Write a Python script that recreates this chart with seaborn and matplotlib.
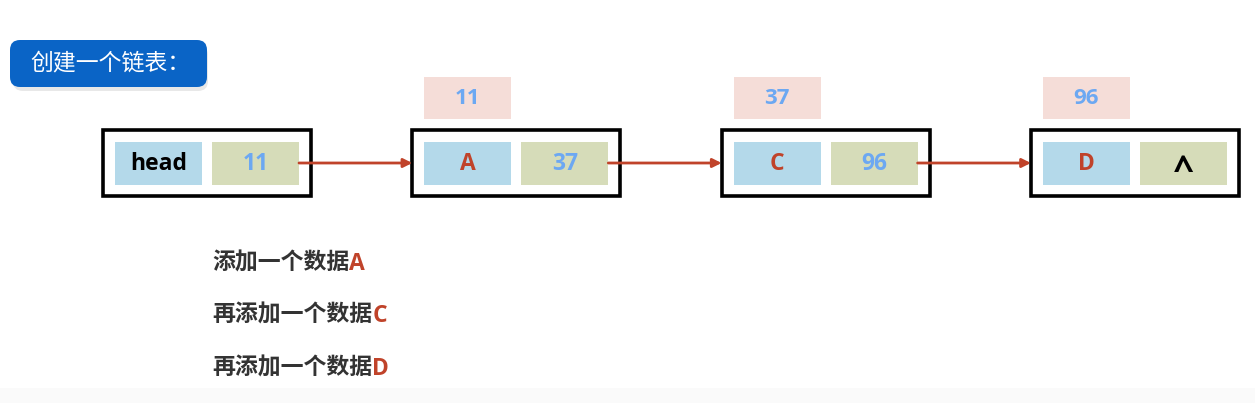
import matplotlib
matplotlib.use('Agg')
import matplotlib.pyplot as plt
import seaborn as sns
from matplotlib.patches import Rectangle, FancyBboxPatch

sns.set_theme(style="white")
plt.rcParams['font.family'] = ['Noto Sans CJK SC', 'DejaVu Sans']

# data of the linked list
title = "创建一个链表："
node_data = ["head", "A", "C", "D"]
node_next = ["11", "37", "96", "^"]
node_addr = [None, "11", "37", "96"]
step_text = ["添加一个数据", "再添加一个数据", "再添加一个数据"]
step_item = ["A", "C", "D"]

# colours
BLUE_BOX = "#0a64c6"
CELL_DATA = "#b4d9ea"
CELL_NEXT = "#d6dcb9"
ADDR_BG = "#f5ddd8"
NUM_COL = "#6ca8f2"
RED = "#c0432a"
DARK = "#333333"
LATIN = ['Open Sans', 'DejaVu Sans']

W, H = 1255, 403
fig = plt.figure(figsize=(W / 100, H / 100), dpi=100)
ax = fig.add_axes([0, 0, 1, 1])
ax.set_xlim(0, W)
ax.set_ylim(H, 0)
ax.axis('off')
fig.patch.set_facecolor('white')

# faint band at the bottom
ax.add_patch(Rectangle((0, 388), W, 15, facecolor="#fafafa", edgecolor='none'))

# title button with shadow
ax.add_patch(FancyBboxPatch((13, 45), 195, 46, boxstyle="round,pad=0,rounding_size=10",
                            facecolor="#d9d9d9", edgecolor='none', alpha=0.6))
ax.add_patch(FancyBboxPatch((10, 40), 197, 47, boxstyle="round,pad=0,rounding_size=10",
                            facecolor=BLUE_BOX, edgecolor='none'))
ax.text(30, 63, title, color='white', fontsize=16.5, va='center', ha='left')

# node layout
x0, step = 103, 309.3
box_w, box_h, box_y = 208, 66, 130
cell_w, cell_h, pad = 87, 43, 12

for i, (d, nx, ad) in enumerate(zip(node_data, node_next, node_addr)):
    bx = x0 + i * step
    ax.add_patch(Rectangle((bx, box_y), box_w, box_h, facecolor='white',
                           edgecolor='black', lw=2.6))
    lx = bx + pad
    rx = lx + cell_w + 10
    cy = box_y + pad
    ax.add_patch(Rectangle((lx, cy), cell_w, cell_h, facecolor=CELL_DATA, edgecolor='none'))
    ax.add_patch(Rectangle((rx, cy), cell_w, cell_h, facecolor=CELL_NEXT, edgecolor='none'))
    dcol = 'black' if d == "head" else RED
    ax.text(lx + cell_w / 2, cy + cell_h / 2 + 1, d, color=dcol, fontsize=16.5,
            fontweight='bold', ha='center', va='center', family=LATIN)
    if nx == "^":
        ax.text(rx + cell_w / 2, cy + cell_h / 2 + 9, nx, color='black',
                fontsize=26, fontweight='bold', ha='center', va='center', family=LATIN)
    else:
        ax.text(rx + cell_w / 2, cy + cell_h / 2 + 1, nx, color=NUM_COL,
                fontsize=16.5, fontweight='bold', ha='center', va='center', family=LATIN)
    if ad is not None:
        ax.add_patch(Rectangle((lx, 77), cell_w, 42, facecolor=ADDR_BG, edgecolor='none'))
        ax.text(lx + cell_w / 2, 99, ad, color=NUM_COL, fontsize=16, fontweight='bold',
                ha='center', va='center', family=LATIN)
    if i < len(node_data) - 1:
        ax.annotate("", xy=(bx + step, 163), xytext=(rx + cell_w, 163),
                    arrowprops=dict(arrowstyle='-|>', color=RED, lw=2,
                                    mutation_scale=13, shrinkA=0, shrinkB=0))

# step captions
fig.canvas.draw()
renderer = fig.canvas.get_renderer()
for j, (t, it) in enumerate(zip(step_text, step_item)):
    y = 263 + j * 52.5
    txt = ax.text(212, y, t, color=DARK, fontsize=16.5, fontweight='bold',
                  ha='left', va='center')
    bb = txt.get_window_extent(renderer=renderer)
    x_end = ax.transData.inverted().transform((bb.x1, bb.y0))[0]
    ax.text(x_end, y + 1, it, color=RED, fontsize=16.5, fontweight='bold',
            ha='left', va='center', family=LATIN)

fig.savefig("out.png", dpi=100)
